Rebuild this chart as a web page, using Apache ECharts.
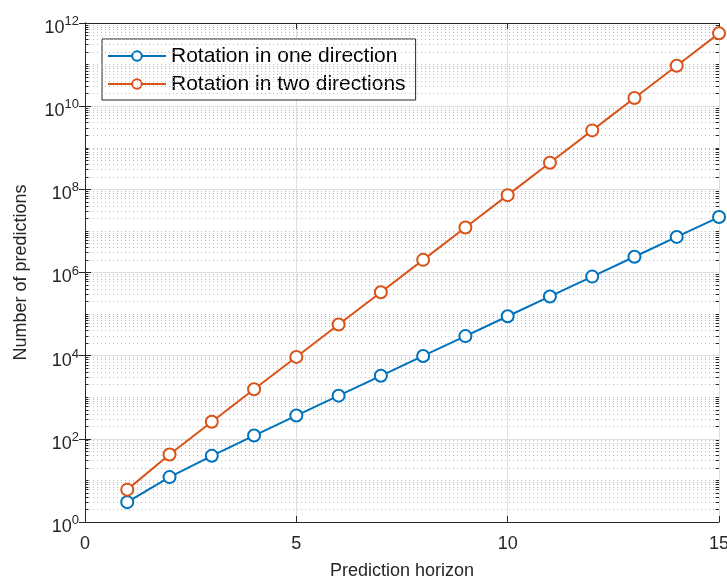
<!DOCTYPE html>
<html>
<head>
<meta charset="utf-8">
<script src="https://cdn.jsdelivr.net/npm/echarts@6/dist/echarts.min.js"></script>
<style>
html,body{margin:0;padding:0;background:#fff;}
#c{width:727px;height:581px;}
</style>
</head>
<body>
<div id="c"></div>
<script>
const horizon = [1,2,3,4,5,6,7,8,9,10,11,12,13,14,15];
const oneDirection = [3,12,39,120,363,1092,3279,9840,29523,88572,265719,797160,2391483,7174452,21523359];
const twoDirections = [6,42,258,1554,9330,55986,335922,2015538,12093234,72559410,435356466,2612138802,15672832818,94036996914,564221981490];
const seriesNames = ['Rotation in one direction','Rotation in two directions'];
const xTicks = [0,5,10,15];
const yTickExponents = [0,2,4,6,8,10,12];

const FONT = '"Liberation Sans", Arial, Helvetica, sans-serif';
const AX = '#262626';

// minor grid positions (2..9 x 10^d and odd decades)
const minorVals = [];
for (let d = 0; d < 12; d++) {
  for (let k = 1; k <= 9; k++) {
    if (k === 1 && d % 2 === 0) continue;
    minorVals.push(k * Math.pow(10, d));
  }
}

const chart = echarts.init(document.getElementById('c'), null, {renderer:'canvas'});
const pairs = (ys) => horizon.map((x,i)=>[x, ys[i]]);

chart.setOption({
  animation:false,
  backgroundColor:'#fff',
  textStyle:{fontFamily:FONT},
  grid:{left:85, right:8, top:23, bottom:59, containLabel:false, outerBoundsMode:'none'},
  legend:{
    data:seriesNames,
    left:102, top:39,
    orient:'vertical',
    backgroundColor:'#fff',
    borderColor:AX, borderWidth:1, borderRadius:0,
    padding:[5,10,4,5],
    itemWidth:58, itemHeight:12, itemGap:4,
    lineStyle:{type:'solid', width:2},
    itemStyle:{borderWidth:2},
    textStyle:{fontSize:21, lineHeight:24, color:'#000', fontFamily:FONT}
  },
  xAxis:[{
    type:'value', min:0, max:15, interval:5,
    name:'Prediction horizon', nameLocation:'middle', nameGap:40,
    nameTextStyle:{fontSize:18, color:'#262626', fontFamily:FONT},
    axisLine:{show:true, lineStyle:{color:AX, width:1}},
    axisTick:{show:true, inside:true, length:6, lineStyle:{color:AX}},
    axisLabel:{fontSize:18, color:'#262626', margin:13, fontFamily:FONT},
    splitLine:{show:true, lineStyle:{color:'#dfdfdf', width:1}}
  },{
    type:'value', min:0, max:15, interval:5, position:'top',
    axisLine:{show:true, lineStyle:{color:AX, width:1}},
    axisTick:{show:true, inside:true, length:6, lineStyle:{color:AX}},
    axisLabel:{show:false}, splitLine:{show:false}
  }],
  yAxis:[{
    type:'log', logBase:10, min:1, max:1e12, interval:2,
    name:'Number of predictions', nameLocation:'middle', nameGap:55,
    nameTextStyle:{fontSize:18, color:'#262626', fontFamily:FONT},
    axisLine:{show:true, lineStyle:{color:AX, width:1}},
    axisTick:{show:true, inside:true, length:6, lineStyle:{color:AX}},
    axisLabel:{
      margin:6, color:'#262626', padding:[8,0,0,0],
      formatter:(v)=>'{b|10}{s|' + Math.round(Math.log10(v)) + '}',
      rich:{
        b:{fontSize:18, color:'#262626', fontFamily:FONT, verticalAlign:'bottom', lineHeight:20},
        s:{fontSize:13, color:'#262626', fontFamily:FONT, verticalAlign:'bottom', lineHeight:20, padding:[0,0,9,0]}
      }
    },
    splitLine:{show:true, lineStyle:{color:'#dfdfdf', width:1}}
  },{
    type:'log', logBase:10, min:1, max:1e12, interval:2, position:'right',
    axisLine:{show:true, lineStyle:{color:AX, width:1}},
    axisTick:{show:true, inside:true, length:6, lineStyle:{color:AX}},
    axisLabel:{show:false}, splitLine:{show:false}
  }],
  series:[
    {
      name:'minor', type:'line', data:[], silent:true,
      markLine:{
        silent:true, symbol:'none', animation:false,
        label:{show:false},
        lineStyle:{color:'#bdbdbd', width:1, type:[1,3]},
        data: minorVals.map(v=>({yAxis:v}))
      }
    },
    {
      name:'minorTicks', type:'line', data:[], silent:true,
      markLine:{
        silent:true, symbol:'none', animation:false,
        label:{show:false},
        lineStyle:{color:AX, width:1, type:'solid'},
        data: minorVals.map(v=>[{coord:[0,v]},{coord:[0.08,v]}]).concat(
              minorVals.map(v=>[{coord:[15,v]},{coord:[14.92,v]}]))
      }
    },
    {
      name:seriesNames[0], type:'line', data:pairs(oneDirection),
      symbol:'emptyCircle', symbolSize:12, z:5,
      color:'#0072BD',
      lineStyle:{width:2, color:'#0072BD', type:'solid'},
      itemStyle:{color:'#0072BD', borderWidth:2, borderColor:'#0072BD'}
    },
    {
      name:seriesNames[1], type:'line', data:pairs(twoDirections),
      symbol:'emptyCircle', symbolSize:12, z:5,
      color:'#D95319',
      lineStyle:{width:2, color:'#D95319', type:'solid'},
      itemStyle:{color:'#D95319', borderWidth:2, borderColor:'#D95319'}
    }
  ]
});
</script>
</body>
</html>
